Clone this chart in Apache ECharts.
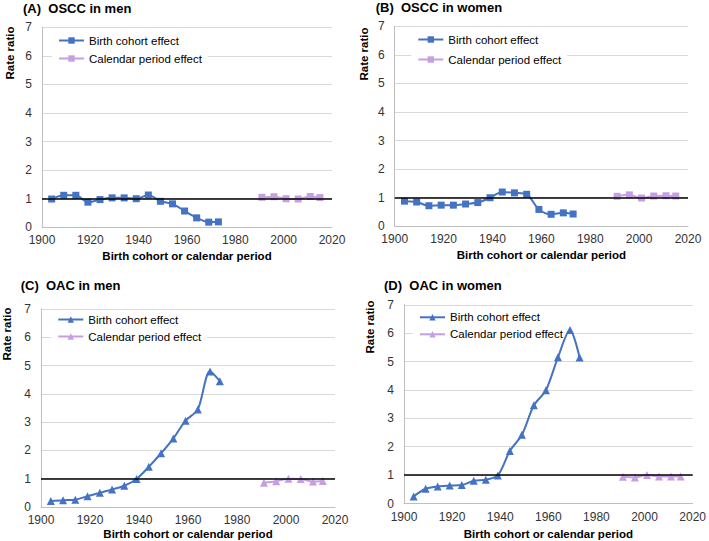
<!DOCTYPE html>
<html>
<head>
<meta charset="utf-8">
<script src="https://cdn.jsdelivr.net/npm/echarts@6/dist/echarts.min.js"></script>
<style>
html,body{margin:0;padding:0;background:#fff;}
#chart{width:709px;height:541px;}
</style>
</head>
<body>
<div id="chart"></div>
<script>
// ---- data ----
const cohortYears = [1904, 1909, 1914, 1919, 1924, 1929, 1934, 1939, 1944, 1949, 1954, 1959, 1964, 1969, 1973];
const periodYears = [1991, 1996, 2001, 2006, 2011, 2015];

const osccMenCohort   = [0.99, 1.12, 1.12, 0.88, 0.97, 1.03, 1.03, 1.00, 1.13, 0.91, 0.82, 0.57, 0.33, 0.18, 0.19];
const osccMenPeriod   = [1.05, 1.07, 1.00, 0.99, 1.08, 1.04];
const osccWomenCohort = [0.88, 0.85, 0.72, 0.74, 0.74, 0.78, 0.83, 1.00, 1.20, 1.17, 1.12, 0.59, 0.42, 0.47, 0.43];
const osccWomenPeriod = [1.05, 1.10, 0.99, 1.06, 1.07, 1.06];
const oacMenCohort    = [0.21, 0.24, 0.26, 0.38, 0.50, 0.62, 0.75, 0.99, 1.42, 1.90, 2.42, 3.05, 3.45, 4.79, 4.45];
const oacMenPeriod    = [0.86, 0.91, 1.00, 0.99, 0.90, 0.92];
const oacWomenCohort  = [0.25, 0.52, 0.60, 0.63, 0.65, 0.80, 0.84, 0.99, 1.85, 2.42, 3.46, 3.99, 5.15, 6.11, 5.14];
const oacWomenPeriod  = [0.94, 0.92, 1.00, 0.95, 0.95, 0.95];

const panelTitles = ['(A)  OSCC in men', '(B)  OSCC in women', '(C)  OAC in men', '(D)  OAC in women'];
const seriesNames = ['Birth cohort effect', 'Calendar period effect'];
const xAxisTitle = 'Birth cohort or calendar period';
const yAxisTitle = 'Rate ratio';
const xTicks = {min: 1900, max: 2020, interval: 20};
const yTicks = {min: 0, max: 7, interval: 1};
const refValue = 1;

// ---- layout / style ----
const FONT = '"Liberation Sans", Arial, Helvetica, sans-serif';
const BLUE = '#4472C4';
const PURPLE = '#C69FE2';

const panels = [
  {cohort: osccMenCohort,   period: osccMenPeriod,   symbol: 'rect',     size: 7,
   grid: {left: 42,  top: 27.3, width: 290, height: 200}, nameGap: 23,
   title: {left: 23, top: 1.5}, yTitle: [10, 53],
   legend: {left: 52, top: 31.5, itemGap: 4}},
  {cohort: osccWomenCohort, period: osccWomenPeriod, symbol: 'rect',     size: 7,
   grid: {left: 394.7, top: 26.3, width: 293.3, height: 200}, nameGap: 22.5,
   title: {left: 375.7, top: 1}, yTitle: [364, 54],
   legend: {left: 411.3, top: 30.5, itemGap: 6}},
  {cohort: oacMenCohort,    period: oacMenPeriod,    symbol: 'triangle', size: 8,
   grid: {left: 41, top: 309, width: 294, height: 199.5}, nameGap: 21,
   title: {left: 20.7, top: 278.5}, yTitle: [7, 334],
   legend: {left: 51.3, top: 310.5, itemGap: 3}},
  {cohort: oacWomenCohort,  period: oacWomenPeriod,  symbol: 'triangle', size: 8,
   grid: {left: 404, top: 304.8, width: 293.7, height: 199.7}, nameGap: 24.5,
   title: {left: 384, top: 278.5}, yTitle: [370, 327],
   legend: {left: 413, top: 308.3, itemGap: 3}}
];

const zip = (xs, ys) => xs.map((x, i) => [x, ys[i]]);
const tag = ['A', 'B', 'C', 'D'];

const option = {
  animation: false,
  backgroundColor: '#fff',
  textStyle: {fontFamily: FONT},
  title: panels.map((p, i) => ({
    text: panelTitles[i], left: p.title.left, top: p.title.top, padding: 0,
    textStyle: {fontFamily: FONT, fontSize: 13, fontWeight: 'bold', color: '#000'}
  })),
  grid: panels.map(p => Object.assign({containLabel: false}, p.grid)),
  xAxis: panels.map((p, i) => ({
    gridIndex: i, type: 'value', min: xTicks.min, max: xTicks.max, interval: xTicks.interval,
    axisLine: {show: true, onZero: false, lineStyle: {color: '#BFBFBF', width: 1}},
    axisTick: {show: false}, splitLine: {show: false},
    axisLabel: {formatter: v => String(v), color: '#333', fontSize: 12, margin: 7, fontFamily: FONT},
    name: xAxisTitle, nameLocation: 'middle', nameGap: p.nameGap,
    nameTextStyle: {fontFamily: FONT, fontWeight: 'bold', fontSize: 11.5, color: '#000'}
  })),
  yAxis: panels.map((p, i) => ({
    gridIndex: i, type: 'value', min: yTicks.min, max: yTicks.max, interval: yTicks.interval,
    axisLine: {show: true, lineStyle: {color: '#BFBFBF', width: 1}},
    axisTick: {show: false},
    splitLine: {show: true, lineStyle: {color: '#D9D9D9', width: 1}},
    axisLabel: {color: '#333', fontSize: 12, margin: 10, fontFamily: FONT}
  })),
  legend: panels.map((p, i) => ({
    data: seriesNames.map(n => tag[i] + ':' + n),
    formatter: n => n.split(':')[1],
    orient: 'vertical', left: p.legend.left, top: p.legend.top,
    itemGap: p.legend.itemGap, itemWidth: 25, itemHeight: 8,
    backgroundColor: '#fff', padding: [2, 6, 2, 6],
    selectedMode: false,
    textStyle: {fontFamily: FONT, fontSize: 11.5, color: '#000', lineHeight: 14}
  })),
  graphic: panels.map((p, i) => ({
    type: 'text', x: p.yTitle[0], y: p.yTitle[1], rotation: Math.PI / 2, z: 10,
    style: {text: yAxisTitle, fontFamily: FONT, fontSize: 11.5, fontWeight: 'bold',
            fill: '#000', textAlign: 'center', textVerticalAlign: 'middle'}
  })),
  series: []
};

panels.forEach((p, i) => {
  option.series.push({
    type: 'line', name: 'ref' + i, xAxisIndex: i, yAxisIndex: i, data: [], z: 1, silent: true,
    markLine: {
      silent: true, symbol: 'none', label: {show: false}, animation: false,
      lineStyle: {color: '#000', type: 'solid', width: 1.5},
      emphasis: {disabled: true},
      data: [{yAxis: refValue}]
    }
  });
  option.series.push({
    type: 'line', name: tag[i] + ':' + seriesNames[1], xAxisIndex: i, yAxisIndex: i, z: 3,
    data: zip(periodYears, p.period), smooth: 0.3,
    symbol: p.symbol, symbolSize: p.size, showAllSymbol: true,
    lineStyle: {color: PURPLE, width: 2}, itemStyle: {color: PURPLE}
  });
  option.series.push({
    type: 'line', name: tag[i] + ':' + seriesNames[0], xAxisIndex: i, yAxisIndex: i, z: 4,
    data: zip(cohortYears, p.cohort), smooth: 0.3,
    symbol: p.symbol, symbolSize: p.size, showAllSymbol: true,
    lineStyle: {color: BLUE, width: 2}, itemStyle: {color: BLUE}
  });
});

const chart = echarts.init(document.getElementById('chart'), null, {renderer: 'svg'});
chart.setOption(option);
</script>
</body>
</html>
